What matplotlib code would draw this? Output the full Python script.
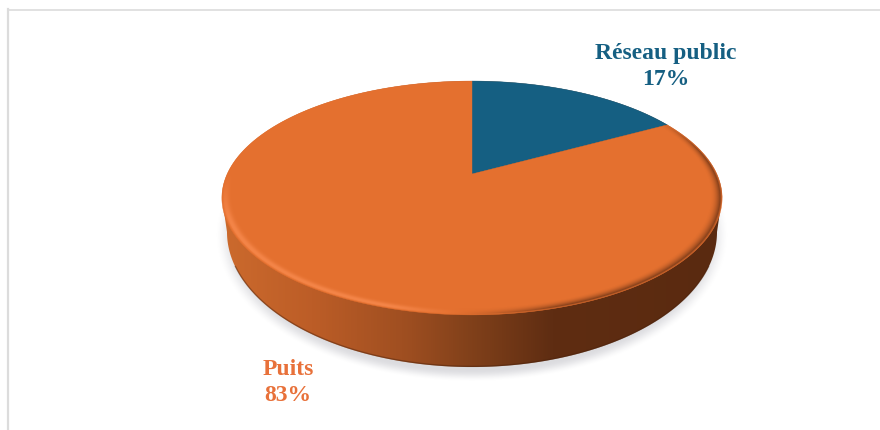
import numpy as np
import matplotlib
matplotlib.use("Agg")
import matplotlib.pyplot as plt
from matplotlib.colors import LinearSegmentedColormap, to_rgb
from matplotlib.patches import Polygon

# Data
categories = ["Réseau public", "Puits"]
shares = [17, 83]
slice_colors = ["#155F82", "#E4702F"]
label_colors = ["#155F82", "#E8713A"]
label_centers = [(666, 66.5), (288, 382.5)]

# Disc geometry in pixels: perspective projection of the unit disc
CX, CY = 472.0, 174.0
KX, KY, PERSP = 244.8, 112.0, 0.205
# Lower outline of the side wall
BASE_A, BASE_B, BASE_Y = 245.0, 135.0, 232.0


def project(x, y):
    w = 1 + PERSP * y
    return CX + KX * x / w, CY - KY * y / w


def unproject(px, py):
    X = (px - CX) / KX
    Y = (CY - py) / KY
    y = Y / (1 - PERSP * Y)
    return X * (1 + PERSP * y), y


def rim(theta0=0.0, theta1=2 * np.pi, r=1.0, n=500):
    t = np.linspace(theta0, theta1, n)
    return project(r * np.sin(t), r * np.cos(t))


def smooth(v):
    v = np.clip(v, 0, 1)
    return v * v * (3 - 2 * v)


fig = plt.figure(figsize=(8.8, 4.3), dpi=100, facecolor="white")
ax = fig.add_axes([0, 0, 1, 1])

# Frame lines along the top and left
ax.plot([8, 880], [9.5, 9.5], color="#DCDCDC", lw=1.2, zorder=1)
ax.plot([8, 8], [9, 430], color="#DCDCDC", lw=1.6, zorder=1)

# Pixel grid shared by the soft overlays
gx, gy = np.meshgrid(np.arange(880) + 0.5, np.arange(430) + 0.5)

# Soft drop shadow below the disc
dist = np.hypot((gx - CX) / 257.0, (gy - 235.0) / 147.0)
shadow = np.zeros(gx.shape + (4,))
shadow[..., :3] = to_rgb("#8A8A96")
shadow[..., 3] = 0.30 * smooth((1.0 - dist) / 0.085)
ax.imshow(shadow, extent=[0, 880, 430, 0], aspect="auto", zorder=2, interpolation="bilinear")

# Side wall: horizontal gradient clipped to the outline of the extruded disc
front = np.linspace(np.pi / 2, 3 * np.pi / 2, 240)
fx, fy = CX + BASE_A * np.sin(front), BASE_Y - BASE_B * np.cos(front)
back = np.linspace(-np.pi / 2 - 0.2, np.pi / 2 + 0.2, 240)
kx, ky = project(np.sin(back), np.cos(back))
outline = np.column_stack([np.r_[fx, kx], np.r_[fy, ky]])
wall_clip = Polygon(outline, closed=True, transform=ax.transData, fc="none", ec="none")
ax.add_patch(wall_clip)
wall_cmap = LinearSegmentedColormap.from_list(
    "wall",
    [(0.0, "#CC6A2D"), (0.18, "#BC5D27"), (0.36, "#A04F21"), (0.50, "#80401A"),
     (0.66, "#5F2D12"), (1.0, "#5A2A10")],
)
wall = ax.imshow(np.linspace(0, 1, 512)[None, :], cmap=wall_cmap, aspect="auto",
                 extent=[222, 723, 370, 75], zorder=3, interpolation="bilinear")
wall.set_clip_path(wall_clip)
ax.plot(fx[20:-20], fy[20:-20] - 0.6, color="#4A220C", lw=1.0, alpha=0.45, zorder=3.2)

# Top face slices, clockwise from twelve o'clock
edges = np.r_[0, np.cumsum(shares)] / sum(shares) * 2 * np.pi
for i, color in enumerate(slice_colors):
    ex, ey = rim(edges[i], edges[i + 1])
    ax.fill(np.r_[CX, ex], np.r_[CY, ey], color=color, lw=0.3, ec=color, zorder=4)

# Bevel on the edge of the top face: highlight on the left, falloff on the right
dx, dy = unproject(gx, gy)
radius = np.hypot(dx, dy)
angle = np.mod(np.arctan2(dx, dy), 2 * np.pi)
uu = np.clip((radius - 0.955) / 0.045, 0, 1)
sx_n = np.where(radius > 0, dx / np.maximum(radius, 1e-6), 0)
sy_n = np.where(radius > 0, dy / np.maximum(radius, 1e-6), 0)

left_w = smooth(-sx_n / 0.3) * smooth((0.05 - sy_n) / 0.5)
right_w = smooth((sx_n + 0.1) / 0.45) * smooth((0.62 - sy_n) / 0.5)
hi_alpha = left_w * np.exp(-((uu - 0.7) / 0.32) ** 2) * 0.8
lo_alpha = right_w * uu ** 2.0
total = np.clip(hi_alpha + lo_alpha, 0, 1)
mix = (lo_alpha / np.maximum(hi_alpha + lo_alpha, 1e-6))[..., None]
bevel = np.zeros(gx.shape + (4,))
bevel[..., :3] = np.array(to_rgb("#F88A4E")) * (1 - mix) + np.array(to_rgb("#5E2C12")) * mix
inside = np.clip((1.0 - radius) * 120, 0, 1) * (angle > edges[1])
bevel[..., 3] = total * inside
ax.imshow(bevel, extent=[0, 880, 430, 0], aspect="auto", zorder=5, interpolation="bilinear")

ax.set_xlim(0, 880)
ax.set_ylim(430, 0)
ax.axis("off")

# Slice labels
for name, share, color, (lx, ly) in zip(categories, shares, label_colors, label_centers):
    ax.text(lx, ly, f"{name}\n{share}%", color=color, ha="center", va="center",
            family="Liberation Serif", weight="bold", fontsize=17,
            linespacing=1.32, zorder=6)

fig.savefig("out.png", dpi=100, facecolor="white")
